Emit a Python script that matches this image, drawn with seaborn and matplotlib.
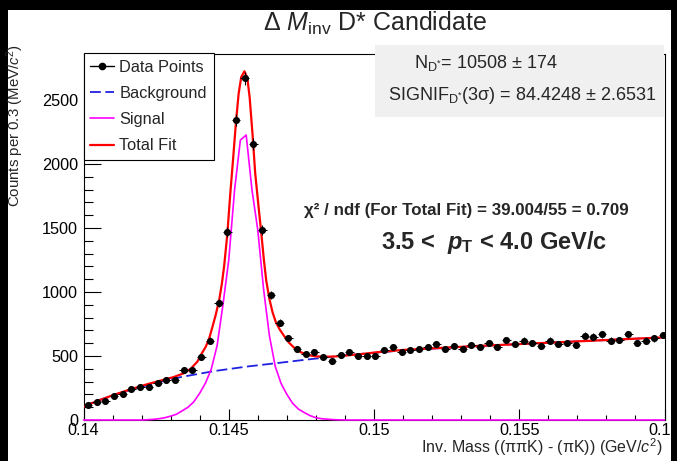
import numpy as np
import matplotlib
matplotlib.use("Agg")
import matplotlib.pyplot as plt
import seaborn as sns
from matplotlib.lines import Line2D
from matplotlib.patches import Rectangle
from matplotlib.ticker import MultipleLocator, FixedLocator

# ---------------- data ----------------
bin_start = 0.14
bin_width = 0.0003
counts = [117, 143, 148, 187, 203, 240, 260, 260, 287, 312,
          312, 390, 390, 495, 620, 912, 1471, 2344, 2669, 2154,
          1484, 977, 760, 640, 556, 513, 529, 495, 461, 508,
          529, 500, 500, 500, 547, 573, 534, 547, 552, 573,
          591, 552, 581, 552, 586, 573, 599, 573, 625, 591,
          620, 599, 578, 620, 591, 604, 586, 659, 651, 669,
          620, 625, 669, 604, 620, 638, 664]

total_x = [0.14000, 0.14013, 0.14059, 0.14104, 0.14162, 0.14220, 0.14266, 0.14311, 0.14345, 0.14369,
           0.14392, 0.14407, 0.14421, 0.14433, 0.14444, 0.14455, 0.14467, 0.14476, 0.14484, 0.14495,
           0.14505, 0.14516, 0.14525, 0.14534, 0.14543, 0.14554, 0.14564, 0.14572, 0.14582, 0.14591,
           0.14602, 0.14612, 0.14621, 0.14629, 0.14640, 0.14651, 0.14662, 0.14676, 0.14691, 0.14707,
           0.14725, 0.14748, 0.14771, 0.14800, 0.14834, 0.14869, 0.14909, 0.14955, 0.15013, 0.15104,
           0.15334, 0.15564, 0.15783, 0.16000]
total_y = [105, 117, 158, 196, 240, 280, 308, 336, 365, 400,
           456, 520, 573, 640, 729, 820, 937, 1060, 1200, 1450,
           1760, 2070, 2330, 2550, 2680, 2725, 2670, 2520, 2230, 1930,
           1680, 1460, 1250, 1090, 945, 840, 765, 705, 655, 605,
           565, 530, 508, 497, 494, 497, 505, 515, 530, 548,
           576, 600, 623, 646]

signal_x = [0.1400, 0.1420, 0.1422, 0.1424, 0.1426, 0.1428, 0.1430, 0.1432, 0.1434, 0.1436, 0.1438,
            0.1440, 0.1442, 0.1444, 0.1446, 0.1448, 0.1450, 0.1452, 0.1454, 0.1456, 0.1458,
            0.1460, 0.1462, 0.1464, 0.1466, 0.1468, 0.1470, 0.1472, 0.1474, 0.1476, 0.1478,
            0.1480, 0.1482, 0.1484, 0.1486, 0.1488, 0.1490, 0.1600]
signal_y = [0, 0, 2, 5, 10, 18, 30, 45, 72, 100, 143,
            209, 289, 399, 582, 900, 1250, 1797, 2187, 2227, 1797,
            1484, 1020, 658, 419, 286, 200, 130, 85, 58, 34,
            18, 10, 6, 3, 1, 0, 0]

bkg_x = [0.14000, 0.14013, 0.14059, 0.14104, 0.14162, 0.14220, 0.14276, 0.14334, 0.14449, 0.14564,
         0.14679, 0.14760, 0.14921, 0.15104, 0.15334, 0.15564, 0.15783, 0.16000]
bkg_y = [105, 117, 160, 195, 235, 272, 305, 335, 382, 418,
         448, 470, 510, 545, 575, 600, 623, 646]

x_ticks = [0.14, 0.145, 0.15, 0.155, 0.16]
x_tick_labels = ["0.14", "0.145", "0.15", "0.155", "0.16"]
y_ticks = [0, 500, 1000, 1500, 2000, 2500]
legend_labels = ["Data Points", "Background", "Signal", "Total Fit"]

# ---------------- style ----------------
sns.set_theme(style="white")
plt.rcParams['font.family'] = ['Liberation Sans', 'DejaVu Sans']
plt.rcParams['mathtext.fontset'] = 'custom'
plt.rcParams['mathtext.rm'] = 'Liberation Sans'
plt.rcParams['mathtext.it'] = 'Liberation Sans:italic'
plt.rcParams['mathtext.bf'] = 'Liberation Sans:bold'
plt.rcParams['mathtext.sf'] = 'Liberation Sans:italic:bold'

W, H = 677, 461
fig = plt.figure(figsize=(W / 100, H / 100), dpi=100)
fig.patch.set_facecolor('black')
fig.add_artist(Rectangle((8 / W, 0), (671 - 8) / W, (H - 10) / H, transform=fig.transFigure,
                         facecolor='white', edgecolor='none', zorder=-10))

ax = fig.add_axes([83.5 / W, (H - 420) / H, 581 / W, 366 / H])
ax.set_facecolor('white')

RED = '#ff0000'
MAG = '#ff00ff'
BLUE = '#2020e0'
DASH = (0, (6, 2.5))

centers = np.array([bin_start + bin_width * (i + 0.5) for i in range(len(counts))])
cnt = np.array(counts, dtype=float)

sns.lineplot(x=bkg_x, y=bkg_y, ax=ax, color=BLUE, linewidth=1.3, linestyle=DASH,
             errorbar=None, zorder=3)
sns.lineplot(x=signal_x, y=signal_y, ax=ax, color=MAG, linewidth=1.2,
             errorbar=None, zorder=3, clip_on=False)
sns.lineplot(x=total_x, y=total_y, ax=ax, color=RED, linewidth=1.6,
             errorbar=None, zorder=3)

ax.errorbar(centers, cnt, yerr=np.sqrt(cnt), xerr=bin_width / 2, fmt='none',
            ecolor='black', elinewidth=0.8, capsize=0, zorder=4)
sns.scatterplot(x=centers, y=cnt, ax=ax, color='black', s=26, edgecolor='black',
                linewidth=0, zorder=5)

ax.set_xlim(0.14, 0.16)
ax.set_ylim(0, 2860)
ax.xaxis.set_major_locator(FixedLocator(x_ticks))
ax.set_xticklabels(x_tick_labels)
ax.xaxis.set_minor_locator(MultipleLocator(0.001))
ax.yaxis.set_major_locator(FixedLocator(y_ticks))
ax.set_yticklabels([str(v) for v in y_ticks])
ax.yaxis.set_minor_locator(MultipleLocator(100))
ax.set_xlabel("")
ax.set_ylabel("")

ax.tick_params(axis='x', which='major', direction='in', length=7.9, width=0.8,
               labelsize=11.7, pad=2.5, colors='black', bottom=True, top=False)
ax.tick_params(axis='x', which='minor', direction='in', length=3.9, width=0.8,
               bottom=True, top=False, colors='black')
ax.tick_params(axis='y', which='major', direction='in', length=12.5, width=0.8,
               labelsize=11.7, pad=4, left=True, right=False, colors='black')
ax.tick_params(axis='y', which='minor', direction='in', length=6.3, width=0.8,
               left=True, right=False, colors='black')
for s in ax.spines.values():
    s.set_color('black')
    s.set_linewidth(0.8)
    s.set_visible(True)

handles = [Line2D([], [], color='black', marker='o', markersize=4.5, linewidth=1.0),
           Line2D([], [], color=BLUE, linestyle=DASH, linewidth=1.3),
           Line2D([], [], color=MAG, linewidth=1.2),
           Line2D([], [], color=RED, linewidth=1.6)]
leg = ax.legend(handles, legend_labels, loc='upper left',
                bbox_to_anchor=(83.5 / W, 1 - 53 / H), bbox_transform=fig.transFigure,
                borderaxespad=0, fontsize=11.8, handlelength=1.46, handletextpad=0.3,
                labelspacing=0.68, borderpad=0.42, frameon=True, fancybox=False,
                edgecolor='black', framealpha=1, facecolor='white')
leg.get_frame().set_linewidth(0.8)
leg.set_zorder(6)

# stats box
fig.add_artist(Rectangle((375 / W, 1 - 117 / H), (664 - 375) / W, (117 - 45) / H,
                         transform=fig.transFigure, facecolor='#f0f0f0',
                         edgecolor='none', zorder=5))
fig.text(414 / W, 1 - 63 / H, r"$\mathrm{N}_{\mathrm{D}^{*}}$= 10508 ± 174",
         fontsize=13, ha='left', va='center', zorder=6)
fig.text(388 / W, 1 - 96 / H, r"$\mathrm{SIGNIF}_{\mathrm{D}^{*}}$(3σ) = 84.4248 ± 2.6531",
         fontsize=13, ha='left', va='center', zorder=6)

fig.text(304 / W, 1 - 210 / H, "χ² / ndf (For Total Fit) = 39.004/55 = 0.709",
         fontsize=12.2, fontweight='bold', ha='left', va='center')
fig.text(381 / W, 1 - 243 / H, r"3.5 <  $\mathsf{p}_{\mathbf{T}}$ < 4.0 GeV/c",
         fontsize=17, fontweight='bold', ha='left', va='center')

fig.text(375 / W, 1 - 23 / H, r"Δ $M_{\mathrm{inv}}$ D* Candidate",
         fontsize=18, ha='center', va='center')
fig.text(663 / W, 1 - 447 / H, r"Inv. Mass ((ππK) - (πK)) (GeV/$c^{2}$)",
         fontsize=11.5, ha='right', va='center')
ylab = fig.text(15.5 / W, 1 - 207 / H, r"Counts per 0.3 (MeV/$c^{2}$)",
                fontsize=10.5, rotation=90, ha='center', va='bottom')

# scale the y-axis title so it spans the same length as in the reference (~164 px)
fig.canvas.draw()
bb = ylab.get_window_extent(renderer=fig.canvas.get_renderer())
if bb.height > 0:
    ylab.set_fontsize(10.5 * 164.0 / bb.height)

fig.savefig("out.png", dpi=100, facecolor=fig.get_facecolor())
